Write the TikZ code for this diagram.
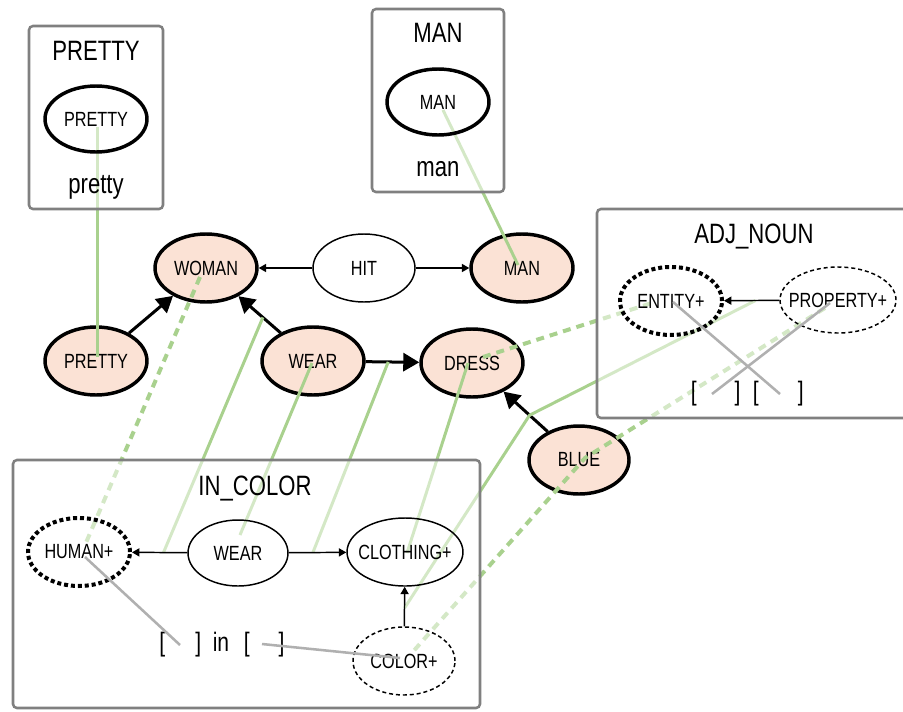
\documentclass[tikz,border=0pt]{standalone}
\usepackage{fontspec}
\setmainfont{Liberation Sans}[FakeStretch=0.79]
\usetikzlibrary{shapes.geometric,arrows.meta,calc}

\pgfdeclarelayer{base}
\pgfdeclarelayer{links}
\pgfdeclarelayer{veil}
\pgfsetlayers{base,links,veil,main}

\definecolor{peach}{HTML}{FBE2D5}
\definecolor{leaf}{HTML}{A9D18E}
\definecolor{slate}{HTML}{B0B0B0}
\definecolor{boxgrey}{HTML}{808080}

% label that does not widen its ellipse
\newcommand\nodelabel[1]{\makebox[0pt]{#1}}

\tikzset{
  lbl/.style={font=\fontsize{15.4}{18}\selectfont},
  concept/.style={ellipse, draw=black, line width=2.6pt, fill=peach,
    minimum width=76.5pt, minimum height=51pt, inner sep=0pt, lbl},
  plain/.style={ellipse, draw=black, line width=1.1pt,
    minimum width=75pt, minimum height=49.5pt, inner sep=0pt, lbl},
  lexeme/.style={ellipse, draw=black, line width=2.6pt,
    minimum width=76.5pt, minimum height=49.5pt, inner sep=0pt, lbl},
  slot/.style={ellipse, draw=black, line width=3pt, dash pattern=on 3pt off 2.2pt,
    minimum width=76.5pt, minimum height=51pt, inner sep=0pt, lbl},
  opt/.style={ellipse, draw=black, line width=1.1pt, dash pattern=on 3pt off 2.2pt,
    minimum width=76.5pt, minimum height=51pt, inner sep=0pt, lbl},
  title/.style={anchor=base, inner sep=0pt, font=\fontsize{21}{24}\selectfont},
  form/.style={anchor=base west, inner sep=0pt, font=\fontsize{20}{24}\selectfont},
  frame/.style={draw=boxgrey, line width=1.9pt, rounded corners=3pt,
    fill=white, fill opacity=0.5},
  heavy/.style={line width=2.25pt, -{Triangle[length=12pt,width=13.5pt]}},
  light/.style={line width=1.1pt, -{Triangle[length=5.5pt,width=6pt]}},
  link/.style={leaf, line width=2.25pt},
  maybe/.style={leaf, line width=3pt, dash pattern=on 6pt off 4.5pt},
  bind/.style={slate, line width=1.9pt},
}

\begin{document}
\begin{tikzpicture}[x=0.75pt,y=-0.75pt]
\useasboundingbox (0,0) rectangle (903,711);

% ---------- construction frames ----------
\begin{pgfonlayer}{veil}
  \draw[frame] (29,26) rectangle (163,209);
  \draw[frame] (372,9) rectangle (504,192);
  \draw[frame] (597,209) rectangle (912,418);
  \draw[frame] (13,460) rectangle (480,708);
\end{pgfonlayer}

% PRETTY lexical entry
\node[title] (prettyTitle) at (96,60) {PRETTY};
\node[lexeme] (prettyLex) at (96,119) {PRETTY};
\node[title] (prettyForm) at (96,193) {pretty};

% MAN lexical entry
\node[title] (manTitle) at (438,42) {MAN};
\node[lexeme] (manLex) at (438,102) {MAN};
\node[title] (manForm) at (438,176) {man};

% ADJ_NOUN construction
\node[title] (adjTitle) at (754,243) {ADJ\_NOUN};
\node[slot] (entity) at (671,301) {ENTITY+};
\node[opt, minimum width=87pt, minimum height=49.5pt] (property) at (838,300) {\nodelabel{PROPERTY+}};
\draw[light] (property) -- coordinate[pos=0.43] (propMid) (entity);
\node[form] (adjForm) at (690.6,400.4) {[\hspace{28.5pt}]\hspace{9.2pt}[\hspace{29.3pt}]};
\coordinate (adjSlotA) at (712,394);
\coordinate (adjSlotB) at (780,394);
\draw[bind] ($(entity)+(2,1)$) -- (adjSlotB);
\draw[bind] ($(property)+(-8,3)$) -- (adjSlotA);

% IN_COLOR construction
\node[title] (colorTitle) at (255,495) {IN\_COLOR};
\node[slot] (human) at (79,552) {HUMAN+};
\node[plain] (iwear) at (238,553) {WEAR};
\node[plain, minimum width=87pt, minimum height=51pt] (clothing) at (405,552) {\nodelabel{CLOTHING+}};
\node[opt] (colour) at (404,661) {COLOR+};
\draw[light] (iwear) -- coordinate[pos=0.43] (iwearHumanMid) (human);
\draw[light] (iwear) -- coordinate[pos=0.42] (iwearClothMid) (clothing);
\draw[light] (colour) -- coordinate[pos=0.46] (colourClothMid) (clothing);
\node[form] (colorForm) at (159.1,651) {[\hspace{22.6pt}]\hspace{8.7pt}in\hspace{11.1pt}[\hspace{21.5pt}]};
\coordinate (colorSlotA) at (180,645);
\coordinate (colorSlotB) at (262,644);
\draw[bind] ($(human)+(6,5)$) -- (colorSlotA);
\draw[bind] (colorSlotB) -- ($(colour)+(-4,-3)$);

% ---------- semantic network ----------
\begin{pgfonlayer}{base}
  \node[concept] (woman) at (206,268) {WOMAN};
  \node[plain, minimum width=76.5pt, minimum height=51pt] (hit) at (364,268) {HIT};
  \node[concept] (man) at (522,268) {MAN};
  \node[concept] (pretty) at (96,361) {PRETTY};
  \node[concept] (wear) at (313,361) {WEAR};
  \node[concept] (dress) at (472,363) {DRESS};
  \node[concept, minimum width=75pt] (blue) at (579,460) {BLUE};
  \draw[light] (hit) -- (woman);
  \draw[light] (hit) -- (man);
  \draw[heavy] (pretty) -- (woman);
  \draw[heavy] (wear) -- coordinate[pos=0.42] (wearWomanMid) (woman);
  \draw[heavy] (wear) -- coordinate[pos=0.42] (wearDressMid) (dress);
  \draw[heavy] (blue) -- coordinate[pos=0.41] (blueDressMid) (dress);
\end{pgfonlayer}

% ---------- correspondence links ----------
\begin{pgfonlayer}{links}
  \draw[link] ($(prettyLex)+(1,8)$) -- ($(pretty)+(1,-4)$);
  \draw[link] ($(manLex)+(5,8)$) -- ($(man)+(-4,-3)$);
  \draw[maybe] ($(woman)+(-6,9)$) -- ($(human)+(6,-7)$);
  \draw[link] (wearWomanMid) -- (iwearHumanMid);
  \draw[link] ($(wear)+(-1,2)$) -- ($(iwear)+(2,-18)$);
  \draw[link] (wearDressMid) -- (iwearClothMid);
  \draw[link] ($(dress)+(-4,0)$) -- ($(clothing)+(2,1)$);
  \draw[link] (propMid) -- (blueDressMid) -- (colourClothMid);
  \draw[maybe] ($(dress)+(11,-6)$) -- ($(entity)+(-16,1)$);
  \draw[maybe] ($(property)+(-13,8)$) -- ($(blue)+(6,-2)$) -- ($(colour)+(6,-6)$);
\end{pgfonlayer}
\end{tikzpicture}
\end{document}
